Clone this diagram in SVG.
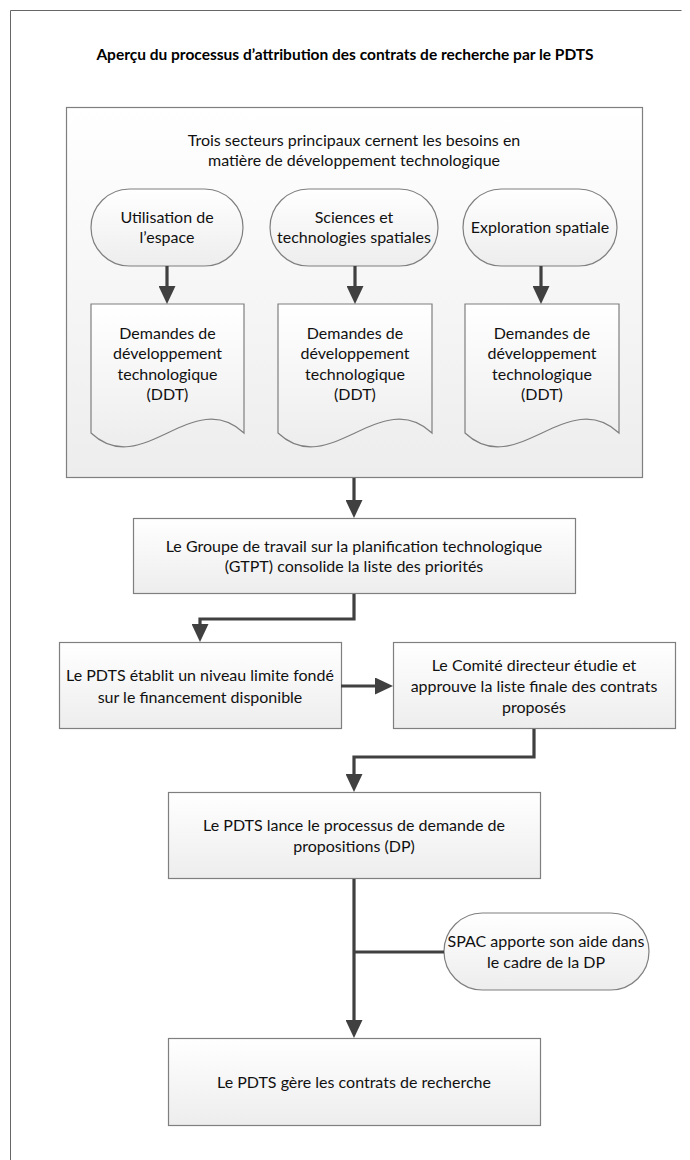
<svg xmlns="http://www.w3.org/2000/svg" width="690" height="1160" viewBox="0 0 690 1160">
<defs>
<linearGradient id="g" x1="0" y1="0" x2="0" y2="1">
<stop offset="0" stop-color="#ffffff"/>
<stop offset="1" stop-color="#ededed"/>
</linearGradient>
<marker id="ah" viewBox="0 0 18 17" refX="10" refY="8.5" markerWidth="18" markerHeight="17" markerUnits="userSpaceOnUse" orient="auto">
<path d="M0,0 L18,8.5 L0,17 z" fill="#404040"/>
</marker>
<style>
.sh{fill:url(#g);stroke:#7f7f7f;stroke-width:1.2}
.t{font-family:Lato,"Liberation Sans",sans-serif;font-size:16px;fill:#111;text-anchor:middle}
.ti{font-family:Lato,"Liberation Sans",sans-serif;font-size:15.5px;font-weight:bold;fill:#000;text-anchor:middle}
.c{fill:none;stroke:#404040;stroke-width:3.2}
.ca{fill:none;stroke:#404040;stroke-width:3.2;marker-end:url(#ah)}
</style>
</defs>
<rect width="690" height="1160" fill="#ffffff"/>
<path d="M10.5,1160 V10.5 H681.5" fill="none" stroke="#666" stroke-width="1"/>
<text class="ti" x="345" y="60">Aperçu du processus d’attribution des contrats de recherche par le PDTS</text>

<g id="secteurs">
<rect class="sh" x="66.5" y="107.5" width="576" height="370"/>
<text class="t" x="354" y="146">Trois secteurs principaux cernent les besoins en</text>
<text class="t" x="354" y="166">matière de développement technologique</text>
</g>

<g id="oval1">
<rect class="sh" x="91" y="189" width="152" height="77" rx="38.5" ry="38.5"/>
<text class="t" x="167" y="223">Utilisation de</text>
<text class="t" x="167" y="243">l’espace</text>
</g>
<g id="oval2">
<rect class="sh" x="270" y="189" width="168" height="77" rx="38.5" ry="38.5"/>
<text class="t" x="354" y="223">Sciences et</text>
<text class="t" x="354" y="243">technologies spatiales</text>
</g>
<g id="oval3">
<rect class="sh" x="463" y="189" width="154" height="77" rx="38.5" ry="38.5"/>
<text class="t" x="540" y="233">Exploration spatiale</text>
</g>

<g id="ddt1">
<path class="sh" d="M91,304 H244 V433 C193,385 142,481 91,433 Z"/>
<text class="t" x="167.5" y="338.5">Demandes de</text>
<text class="t" x="167.5" y="359">développement</text>
<text class="t" x="167.5" y="379.5">technologique</text>
<text class="t" x="167.5" y="400">(DDT)</text>
</g>
<g id="ddt2">
<path class="sh" d="M278,304 H432 V433 C381,385 329,481 278,433 Z"/>
<text class="t" x="355" y="338.5">Demandes de</text>
<text class="t" x="355" y="359">développement</text>
<text class="t" x="355" y="379.5">technologique</text>
<text class="t" x="355" y="400">(DDT)</text>
</g>
<g id="ddt3">
<path class="sh" d="M465,304 H619 V433 C568,385 516,481 465,433 Z"/>
<text class="t" x="542" y="338.5">Demandes de</text>
<text class="t" x="542" y="359">développement</text>
<text class="t" x="542" y="379.5">technologique</text>
<text class="t" x="542" y="400">(DDT)</text>
</g>

<g id="gtpt">
<rect class="sh" x="133.5" y="518.5" width="442" height="75"/>
<text class="t" x="354" y="551.5">Le Groupe de travail sur la planification technologique</text>
<text class="t" x="354" y="571.5">(GTPT) consolide la liste des priorités</text>
</g>

<g id="niveau">
<rect class="sh" x="59.5" y="642.5" width="282" height="86"/>
<text class="t" x="200" y="680.5">Le PDTS établit un niveau limite fondé</text>
<text class="t" x="200" y="702.5">sur le financement disponible</text>
</g>

<g id="comite">
<rect class="sh" x="393.5" y="642.5" width="282" height="86"/>
<text class="t" x="534" y="670.5">Le Comité directeur étudie et</text>
<text class="t" x="534" y="691.5">approuve la liste finale des contrats</text>
<text class="t" x="534" y="712.5">proposés</text>
</g>

<g id="dp">
<rect class="sh" x="168.5" y="792.5" width="372" height="86"/>
<text class="t" x="354" y="830.5">Le PDTS lance le processus de demande de</text>
<text class="t" x="354" y="851.5">propositions (DP)</text>
</g>

<g id="spac">
<rect class="sh" x="444" y="913" width="205" height="77" rx="38.5" ry="38.5"/>
<text class="t" x="546" y="946.5">SPAC apporte son aide dans</text>
<text class="t" x="546" y="967.5">le cadre de la DP</text>
</g>

<g id="contrats">
<rect class="sh" x="168.5" y="1038.5" width="372" height="87"/>
<text class="t" x="354" y="1087.5">Le PDTS gère les contrats de recherche</text>
</g>

<g id="connectors">
<path class="ca" d="M167,266 V296"/>
<path class="ca" d="M355,266 V296"/>
<path class="ca" d="M541,266 V296"/>
<path class="ca" d="M354,478 V510"/>
<path class="ca" d="M354,594 V619 H200 V634"/>
<path class="ca" d="M341,686 H385"/>
<path class="ca" d="M534,729 V757 H354 V784"/>
<path class="ca" d="M354,879 V1030"/>
<path class="c" d="M444,952 H354"/>
</g>
</svg>
